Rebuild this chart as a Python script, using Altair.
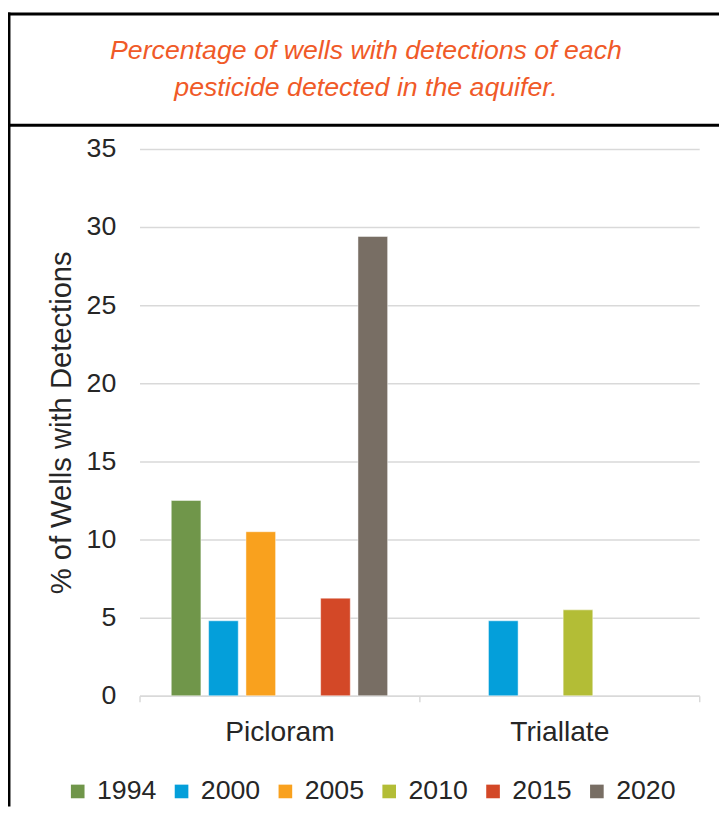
import altair as alt
import pandas as pd

# ---- data ----
pesticides = ["Picloram", "Picloram", "Picloram", "Picloram", "Picloram",
              "Triallate", "Triallate"]
years = ["1994", "2000", "2005", "2015", "2020", "2000", "2010"]
values = [12.5, 4.8, 10.5, 6.25, 29.4, 4.8, 5.5]

categories = ["Picloram", "Triallate"]
year_order = ["1994", "2000", "2005", "2010", "2015", "2020"]
year_colors = ["#70964A", "#049FDA", "#F9A11E", "#B3BD36", "#D34827", "#786E64"]
y_ticks = [0, 5, 10, 15, 20, 25, 30, 35]
title_lines = ["Percentage of wells with detections of each",
               "pesticide detected in the aquifer."]

df = pd.DataFrame({"Pesticide": pesticides, "Year": years, "Value": values})

FONT = "Liberation Sans"
TXT = "#262626"
GRID = "#D9D9D9"

# plot area geometry (page px): left 141, top 146, width 566, height 553
W, H = 566, 553
PL, PT = 133, 138
CANVAS_W, CANVAS_H = 719, 803

bars = alt.Chart(df).mark_bar(stroke="white", strokeWidth=0.8, strokeOpacity=0.6).encode(
    x=alt.X("Pesticide:N", sort=categories,
            scale=alt.Scale(domain=categories, paddingInner=0, paddingOuter=0),
            axis=alt.Axis(title=None, labelAngle=0, labelFont=FONT, labelFontSize=28.5,
                          labelColor=TXT, domainColor=GRID, domainWidth=1.5,
                          ticks=True, tickBand="extent", tickSize=6, tickColor=GRID,
                          tickWidth=1.5, labelPadding=16, grid=False)),
    xOffset=alt.XOffset("Year:N", sort=year_order,
                        scale=alt.Scale(domain=year_order, paddingInner=0.206,
                                        paddingOuter=0.85)),
    y=alt.Y("Value:Q",
            scale=alt.Scale(domain=[0, 35], nice=False),
            axis=alt.Axis(title="% of Wells with Detections", values=y_ticks,
                          labelFont=FONT, labelFontSize=27, labelColor=TXT,
                          titleFont=FONT, titleFontSize=29.5, titleColor=TXT,
                          titleFontWeight="normal", titlePadding=10,
                          domain=False, ticks=False, labelPadding=24,
                          grid=True, gridColor=GRID, gridWidth=1.5)),
    color=alt.Color("Year:N", sort=year_order,
                    scale=alt.Scale(domain=year_order, range=year_colors),
                    legend=alt.Legend(title=None, orient="none", direction="horizontal",
                                      legendX=-76, legendY=636,
                                      symbolType="square", symbolSize=190,
                                      symbolStrokeWidth=0, labelFont=FONT,
                                      labelFontSize=27, labelColor=TXT,
                                      labelOffset=6, columnPadding=11)),
)

frame_data = alt.Data(values=[{"k": 0}])

left_border = alt.Chart(frame_data).mark_rule(color="black", strokeWidth=2.5).encode(
    x=alt.value(-PL + 1.25), y=alt.value(-PT), y2=alt.value(CANVAS_H - PT))
top_border = alt.Chart(frame_data).mark_rule(color="black", strokeWidth=3).encode(
    x=alt.value(-PL), x2=alt.value(CANVAS_W - PL), y=alt.value(-PT + 1.5))
sep_border = alt.Chart(frame_data).mark_rule(color="black", strokeWidth=3).encode(
    x=alt.value(-PL), x2=alt.value(CANVAS_W - PL), y=alt.value(-24))

title = alt.Chart(frame_data).mark_text(
    text=title_lines, font=FONT, fontSize=27, fontStyle="italic", color="#F05A28",
    align="center", baseline="alphabetic", lineHeight=37
).encode(x=alt.value(229), y=alt.value(-91))

chart = alt.layer(bars, left_border, top_border, sep_border, title).properties(
    width=W, height=H,
    autosize=alt.AutoSizeParams(type="none"),
    padding={"left": PL, "top": PT, "right": CANVAS_W - PL - W, "bottom": CANVAS_H - PT - H},
    background="white",
).configure_view(stroke=None)

chart.save("out.html", embed_options={"renderer": "svg", "actions": False})
